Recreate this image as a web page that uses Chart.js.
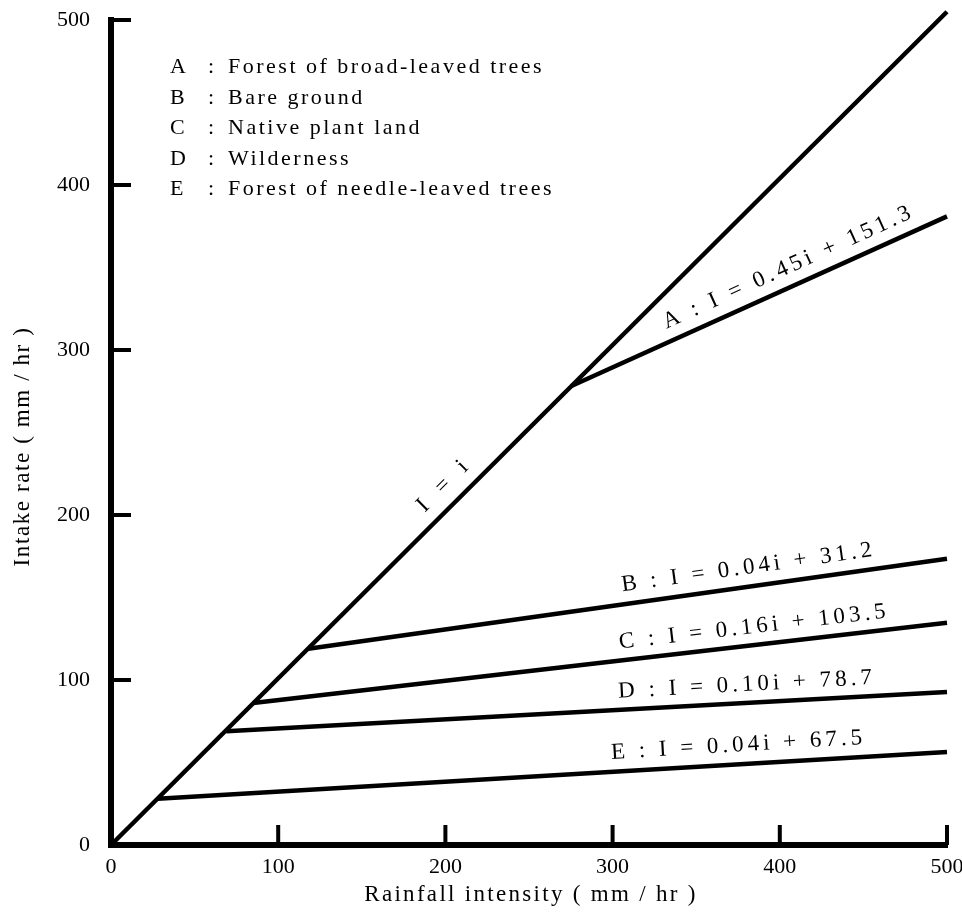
<!DOCTYPE html>
<html>
<head>
<meta charset="utf-8">
<title>Intake rate vs rainfall intensity</title>
<script src="https://cdn.jsdelivr.net/npm/chart.js@4.4.1/dist/chart.umd.min.js"></script>
<style>
    body { margin: 0; background: #fff; }
    #wrap { width: 962px; height: 913px; }
</style>
</head>
<body>
<div id="wrap"><canvas id="myChart-intake" width="962" height="913"></canvas></div>
<script>
// values (mm / hr)
const keys = ['A', 'B', 'C', 'D', 'E'];
const landNames = [
    'Forest of broad-leaved trees',
    'Bare ground',
    'Native plant land',
    'Wilderness',
    'Forest of needle-leaved trees'
];
const equations = ['I = 0.45i + 151.3', 'I = 0.04i + 31.2', 'I = 0.16i + 103.5', 'I = 0.10i + 78.7', 'I = 0.04i + 67.5'];
const xTitle = 'Rainfall intensity ( mm / hr )';
const yTitle = 'Intake rate ( mm / hr )';

// I = i line
const diagX = [0, 500];
const diagY = [0, 505];

// branches leave I = i and run to 500 mm/hr
const branchStartX = [275, 118, 85, 69, 28];
const branchStartY = [278, 119, 86, 69, 28];
const branchEndX = [500, 500, 500, 500, 500];
const branchEndY = [381, 173.5, 134.7, 92.8, 56.4];

const xTicks = [0, 100, 200, 300, 400, 500];
const yTicks = [0, 100, 200, 300, 400, 500];

const SERIF = '"Liberation Serif", "DejaVu Serif", serif';

const lineStyle = {
    borderColor: '#000',
    borderWidth: 4.5,
    pointRadius: 0,
    showLine: true,
    fill: false,
    clip: false
};

const datasets = [{
    ...lineStyle,
    label: 'I = i',
    data: diagX.map((x, i) => ({ x: x, y: diagY[i] }))
}];
keys.forEach((k, i) => {
    datasets.push({
        ...lineStyle,
        label: k,
        data: [
            { x: branchStartX[i], y: branchStartY[i] },
            { x: branchEndX[i], y: branchEndY[i] }
        ]
    });
});

// text written along a line, a little above it
const lineLabels = {
    id: 'lineLabels',
    afterDatasetsDraw(chart, args, opts) {
        const { ctx, scales: { x, y } } = chart;
        ctx.save();
        ctx.fillStyle = '#000';
        ctx.font = opts.font;
        opts.items.forEach(item => {
            const pts = chart.data.datasets[item.dataset].data;
            const x1 = x.getPixelForValue(pts[0].x), y1 = y.getPixelForValue(pts[0].y);
            const x2 = x.getPixelForValue(pts[1].x), y2 = y.getPixelForValue(pts[1].y);
            const ang = Math.atan2(y2 - y1, x2 - x1);
            const px = x.getPixelForValue(item.at);
            const py = y1 + (px - x1) * (y2 - y1) / (x2 - x1);
            const nx = Math.sin(ang), ny = -Math.cos(ang);
            if ('letterSpacing' in ctx) ctx.letterSpacing = item.spacing || opts.spacing;
            ctx.save();
            ctx.translate(px + nx * item.off, py + ny * item.off);
            ctx.rotate(ang);
            ctx.textAlign = 'center';
            ctx.textBaseline = 'middle';
            ctx.fillText(item.text, 0, 0);
            ctx.restore();
        });
        ctx.restore();
    }
};

// key in the upper left corner
const keyBox = {
    id: 'keyBox',
    afterDraw(chart, args, opts) {
        const ctx = chart.ctx;
        ctx.save();
        ctx.fillStyle = '#000';
        ctx.font = opts.font;
        ctx.textBaseline = 'alphabetic';
        if ('letterSpacing' in ctx) ctx.letterSpacing = opts.spacing;
        keys.forEach((k, i) => {
            const yy = opts.top + i * opts.step;
            ctx.fillText(k, opts.left, yy);
            ctx.fillText(':', opts.left + 38, yy);
            ctx.fillText(landNames[i], opts.left + 58, yy);
        });
        ctx.restore();
    }
};

// axis titles (drawn by hand so they can be letter-spaced)
const axisTitles = {
    id: 'axisTitles',
    afterDraw(chart, args, opts) {
        const { ctx, chartArea: a } = chart;
        ctx.save();
        ctx.fillStyle = '#000';
        ctx.font = opts.font;
        ctx.textAlign = 'center';
        ctx.textBaseline = 'middle';
        if ('letterSpacing' in ctx) ctx.letterSpacing = opts.xSpacing;
        ctx.fillText(xTitle, (a.left + a.right) / 2 + 2, opts.xTitleY);
        if ('letterSpacing' in ctx) ctx.letterSpacing = opts.ySpacing;
        ctx.translate(opts.yTitleX, (a.top + a.bottom) / 2 + 14);
        ctx.rotate(-Math.PI / 2);
        ctx.fillText(yTitle, 0, 0);
        ctx.restore();
    }
};

// tick marks drawn inward from the axes
const innerTicks = {
    id: 'innerTicks',
    afterDraw(chart, args, opts) {
        const { ctx, chartArea: a, scales: { x, y } } = chart;
        ctx.save();
        ctx.strokeStyle = '#000';
        ctx.lineWidth = opts.width;
        ctx.beginPath();
        yTicks.slice(1).forEach(v => {
            const py = y.getPixelForValue(v);
            ctx.moveTo(a.left, py);
            ctx.lineTo(a.left + opts.length, py);
        });
        xTicks.slice(1).forEach(v => {
            const px = x.getPixelForValue(v);
            ctx.moveTo(px, a.bottom);
            ctx.lineTo(px, a.bottom - opts.length);
        });
        ctx.stroke();
        ctx.restore();
    }
};

const config = {
    type: 'scatter',
    data: { datasets: datasets },
    options: {
        responsive: false,
        animation: false,
        layout: { padding: { top: 20, right: 15, left: 0, bottom: 0 } },
        plugins: {
            legend: { display: false },
            tooltip: { enabled: false },
            lineLabels: {
                font: '23px ' + SERIF,
                spacing: '4px',
                items: [
                    { dataset: 0, text: 'I = i', at: 208, off: 20, spacing: '6px' },
                    { dataset: 1, text: 'A : ' + equations[0], at: 410, off: 19 },
                    { dataset: 2, text: 'B : ' + equations[1], at: 383, off: 19 },
                    { dataset: 3, text: 'C : ' + equations[2], at: 386, off: 18 },
                    { dataset: 4, text: 'D : ' + equations[3], at: 381, off: 18 },
                    { dataset: 5, text: 'E : ' + equations[4], at: 376, off: 19 }
                ]
            },
            keyBox: { font: '22px ' + SERIF, spacing: '2.5px', left: 170, top: 73, step: 30.5 },
            axisTitles: { font: '23px ' + SERIF, xSpacing: '2.3px', ySpacing: '1.6px', xTitleY: 895, yTitleX: 23 },
            innerTicks: { width: 4, length: 20 }
        },
        scales: {
            x: {
                type: 'linear',
                min: 0,
                max: 500,
                afterFit: (scale) => {
                    scale.height = 68;
                    scale.paddingLeft = 0;
                    scale.paddingRight = 0;
                },
                afterBuildTicks: (scale) => { scale.ticks = xTicks.map(v => ({ value: v })); },
                grid: { display: false },
                border: { display: true, color: '#000', width: 6 },
                ticks: { color: '#000', padding: 1, maxRotation: 0, font: { family: SERIF, size: 22 } }
            },
            y: {
                type: 'linear',
                min: 0,
                max: 500,
                afterFit: (scale) => {
                    scale.width = 111;
                    scale.paddingTop = 0;
                    scale.paddingBottom = 0;
                },
                afterBuildTicks: (scale) => { scale.ticks = yTicks.map(v => ({ value: v })); },
                grid: { display: false },
                border: { display: true, color: '#000', width: 6 },
                ticks: { color: '#000', padding: 13, font: { family: SERIF, size: 22 } }
            }
        }
    },
    plugins: [lineLabels, keyBox, axisTitles, innerTicks]
};

document.addEventListener('DOMContentLoaded', () => {
    const ctx = document.getElementById('myChart-intake').getContext('2d');
    new Chart(ctx, config);
});
</script>
</body>
</html>
